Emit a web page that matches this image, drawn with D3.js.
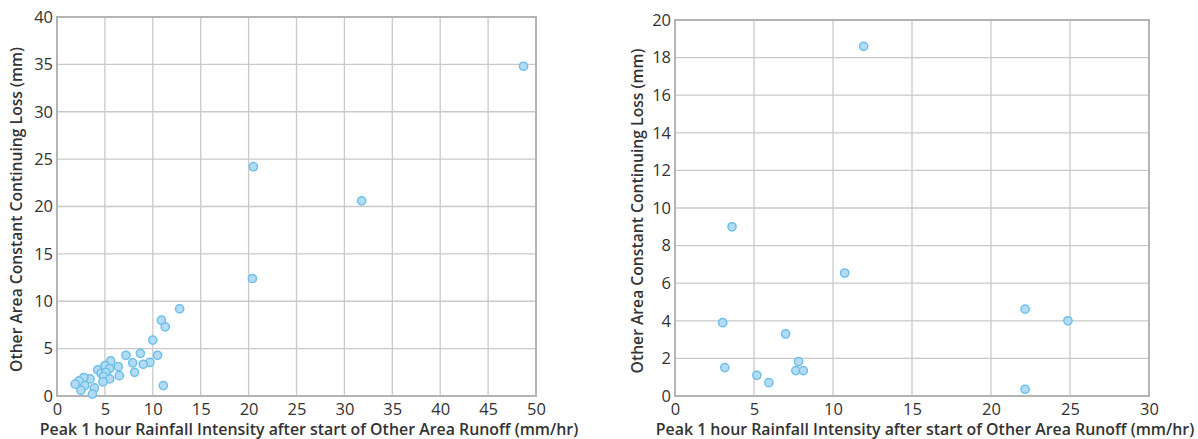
<!DOCTYPE html>
<html><head><meta charset="utf-8">
<script src="https://cdn.jsdelivr.net/npm/d3@7"></script>
<style>
body{margin:0;background:#fff;}
text{font-family:"Open Sans","Noto Sans",sans-serif;fill:#333;}
</style></head>
<body>
<svg id="c" width="1198" height="439"></svg>
<script>
// Left chart data
const leftX = [48.7, 31.8, 20.5, 20.4, 12.8, 10.9, 11.3, 10.0, 10.5, 8.7, 7.2, 7.9, 9.7, 9.0, 8.1, 11.1, 5.6, 6.4, 6.5, 5.0, 5.5, 4.25, 4.6, 5.1, 4.85, 5.5, 4.8, 3.45, 2.8, 2.3, 1.9, 2.9, 2.5, 3.9, 3.7];
const leftY = [34.8, 20.6, 24.2, 12.4, 9.2, 8.0, 7.3, 5.9, 4.3, 4.5, 4.3, 3.5, 3.55, 3.35, 2.5, 1.1, 3.7, 3.1, 2.15, 3.2, 2.9, 2.75, 2.4, 2.5, 2.05, 1.8, 1.5, 1.8, 1.95, 1.6, 1.25, 1.1, 0.6, 0.85, 0.2];
const leftXTicks = [0,5,10,15,20,25,30,35,40,45,50];
const leftYTicks = [0,5,10,15,20,25,30,35,40];
// Right chart data
const rightX = [11.94, 3.61, 10.74, 3.02, 7.0, 3.15, 5.18, 5.94, 7.82, 7.65, 8.12, 22.16, 24.87, 22.16];
const rightY = [18.6, 9.0, 6.54, 3.9, 3.3, 1.51, 1.1, 0.71, 1.83, 1.35, 1.35, 4.62, 4.0, 0.36];
const rightXTicks = [0,5,10,15,20,25,30];
const rightYTicks = [0,2,4,6,8,10,12,14,16,18,20];
const xTitle = "Peak 1 hour Rainfall Intensity after start of Other Area Runoff (mm/hr)";
const yTitle = "Other Area Constant Continuing Loss (mm)";

const svg = d3.select("#c");

function drawChart(cfg){
  const g = svg.append("g");
  const x = d3.scaleLinear().domain([cfg.xTicks[0], cfg.xTicks[cfg.xTicks.length-1]]).range([cfg.x0, cfg.x1]);
  const y = d3.scaleLinear().domain([cfg.yTicks[0], cfg.yTicks[cfg.yTicks.length-1]]).range([cfg.y1, cfg.y0]);
  // grid
  g.append("g").selectAll("line").data(cfg.xTicks).join("line")
    .attr("x1", d=>x(d)).attr("x2", d=>x(d)).attr("y1", cfg.y0).attr("y2", cfg.y1)
    .attr("stroke", "#c9c9c9").attr("stroke-width", 1.3);
  g.append("g").selectAll("line").data(cfg.yTicks).join("line")
    .attr("y1", d=>y(d)).attr("y2", d=>y(d)).attr("x1", cfg.x0).attr("x2", cfg.x1)
    .attr("stroke", "#c9c9c9").attr("stroke-width", 1.3);
  // frame
  g.append("rect").attr("x", cfg.x0).attr("y", cfg.y0).attr("width", cfg.x1-cfg.x0).attr("height", cfg.y1-cfg.y0)
    .attr("fill", "none").attr("stroke", "#b4b4b4").attr("stroke-width", 2);
  // axes via d3
  const xa = g.append("g").attr("transform", `translate(0,${cfg.y1})`)
    .call(d3.axisBottom(x).tickValues(cfg.xTicks).tickSize(0).tickPadding(5).tickFormat(d3.format("d")));
  const ya = g.append("g").attr("transform", `translate(${cfg.x0},0)`)
    .call(d3.axisLeft(y).tickValues(cfg.yTicks).tickSize(0).tickPadding(4).tickFormat(d3.format("d")));
  [xa, ya].forEach(a=>{
    a.select(".domain").remove();
    a.selectAll("text").attr("font-family", '"Open Sans","Noto Sans",sans-serif').attr("font-size", 16.5).attr("fill", "#333");
  });
  xa.selectAll("text").attr("dy", "0.85em");
  // points
  g.append("g").selectAll("circle").data(cfg.xs.map((v,i)=>[v, cfg.ys[i]])).join("circle")
    .attr("cx", d=>x(d[0])).attr("cy", d=>y(d[1])).attr("r", 4.1)
    .attr("fill", "#b3dcf4").attr("stroke", "#6dbfeb").attr("stroke-width", 1.5);
  // titles
  g.append("text").attr("x", cfg.xTitleX).attr("y", 435).attr("text-anchor", "middle")
    .attr("font-size", 15.9).attr("font-weight", 600).text(xTitle);
  g.append("text").attr("transform", `translate(${cfg.yTitleX},${(cfg.y0+cfg.y1)/2+3}) rotate(-90)`)
    .attr("text-anchor", "middle").attr("font-size", 15.7).attr("font-weight", 600).text(yTitle);
}

drawChart({xs:leftX, ys:leftY, xTicks:leftXTicks, yTicks:leftYTicks, x0:57, x1:536, y0:17, y1:396, xTitleX:309, yTitleX:22});
drawChart({xs:rightX, ys:rightY, xTicks:rightXTicks, yTicks:rightYTicks, x0:675, x1:1149, y0:20, y1:396, xTitleX:925, yTitleX:643});
</script>
</body></html>
